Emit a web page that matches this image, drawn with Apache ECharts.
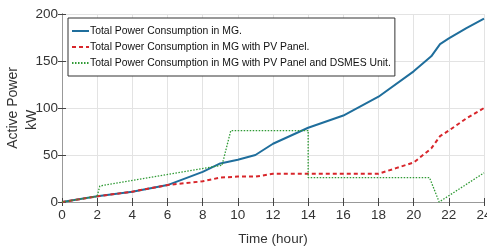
<!DOCTYPE html>
<html>
<head>
<meta charset="utf-8">
<script src="https://cdn.jsdelivr.net/npm/echarts@6/dist/echarts.min.js"></script>
<style>html,body{margin:0;padding:0;background:#fff}#chart{width:487px;height:252px}</style>
</head>
<body>
<div id="chart"></div>
<script>
var xTicks = [0, 2, 4, 6, 8, 10, 12, 14, 16, 18, 20, 22, 24];
var yTicks = [0, 50, 100, 150, 200];

var mgHours = [0, 2, 4, 6, 8, 9, 10, 11, 12, 14, 16, 18, 20, 21, 21.5, 22, 23, 24];
var mgPower = [0, 6, 11, 18, 32, 41, 45, 50, 62, 79, 92, 112, 139, 155, 168, 174, 185, 195];

var pvHours = [0, 2, 4, 6, 8, 9, 10, 11, 12, 14, 16, 18, 19, 20, 21, 21.5, 22, 23, 24];
var pvPower = [0, 6, 11, 18, 22, 26, 27, 27, 30, 30, 30, 30, 36, 42, 57, 70, 76, 89, 100];

var smesHours = [0, 2, 2.15, 9.1, 9.6, 14, 14, 20.9, 21.45, 24];
var smesPower = [0, 6, 17, 39, 76, 76, 26, 26, 0, 31];

var names = [
    'Total Power Consumption in MG.',
    'Total Power Consumption in MG with PV Panel.',
    'Total Power Consumption in MG with PV Panel and DSMES Unit.'
];

function pairs(xs, ys) {
    var out = [];
    for (var i = 0; i < xs.length; i++) out.push([xs[i], ys[i]]);
    return out;
}

var font = "'Liberation Sans', Arial, sans-serif";
var chart = echarts.init(document.getElementById('chart'));

var axisX = {
    type: 'value', min: 0, max: 24, interval: 2,
    splitLine: {show: true, lineStyle: {color: '#e3e3e3'}},
    axisTick: {inside: true, length: 4, lineStyle: {color: '#444'}},
    axisLine: {lineStyle: {color: '#444'}}
};
var axisY = {
    type: 'value', min: 0, max: 200, interval: 50,
    splitLine: {show: true, lineStyle: {color: '#e3e3e3'}},
    axisTick: {show: true, inside: true, length: 4, lineStyle: {color: '#444'}},
    axisLine: {show: true, lineStyle: {color: '#444'}}
};

chart.setOption({
    animation: false,
    grid: {left: 62, right: 3, top: 14, bottom: 50, outerBoundsMode: 'none'},
    legend: {
        orient: 'vertical',
        left: 68, top: 18,
        padding: [7, 4, 7, 3],
        itemGap: 4,
        itemWidth: 17, itemHeight: 12,
        borderColor: '#333', borderWidth: 1,
        backgroundColor: '#fff',
        itemStyle: {opacity: 0},
        textStyle: {fontFamily: font, fontSize: 10.4, color: '#111', height: 12, lineHeight: 12, padding: [0, 0, 0, -4]},
        data: names
    },
    xAxis: [
        Object.assign({}, axisX, {
            name: 'Time (hour)', nameLocation: 'middle', nameGap: 30,
            nameTextStyle: {fontFamily: font, fontSize: 13.5, color: '#333'},
            axisLabel: {fontFamily: font, fontSize: 13.5, color: '#333', margin: 6,
                formatter: function (v) { return xTicks.indexOf(v) >= 0 ? v : ''; }}
        }),
        Object.assign({}, axisX, {position: 'top', axisLabel: {show: false},
            axisLine: {lineStyle: {color: '#999'}}})
    ],
    yAxis: [
        Object.assign({}, axisY, {
            name: '{a|Active Power}\n{b|kW}', nameLocation: 'middle', nameGap: 20, nameMoveOverlap: false,
            nameTextStyle: {
                fontFamily: font, fontSize: 14, color: '#333', lineHeight: 19,
                rich: {
                    a: {fontFamily: font, fontSize: 14, color: '#333', lineHeight: 19},
                    b: {fontFamily: font, fontSize: 14, color: '#333', lineHeight: 19, padding: [0, 24, 0, 0]}
                }
            },
            axisLabel: {fontFamily: font, fontSize: 13.5, color: '#333', margin: 4,
                formatter: function (v) { return yTicks.indexOf(v) >= 0 ? v : ''; }}
        }),
        Object.assign({}, axisY, {position: 'right', axisLabel: {show: false}, splitLine: {show: false},
            axisLine: {show: true, lineStyle: {color: '#999'}}})
    ],
    series: [
        {name: names[0], type: 'line', symbol: 'none', data: pairs(mgHours, mgPower),
            lineStyle: {color: '#1f6e9c', width: 2}, itemStyle: {color: '#1f6e9c'}},
        {name: names[1], type: 'line', symbol: 'none', data: pairs(pvHours, pvPower),
            lineStyle: {color: '#d8262b', width: 2, type: [4, 3]}, itemStyle: {color: '#d8262b'}},
        {name: names[2], type: 'line', symbol: 'none', data: pairs(smesHours, smesPower),
            lineStyle: {color: '#2f9a35', width: 1.3, type: [1.5, 1.5]}, itemStyle: {color: '#2f9a35'}}
    ]
});
</script>
</body>
</html>
